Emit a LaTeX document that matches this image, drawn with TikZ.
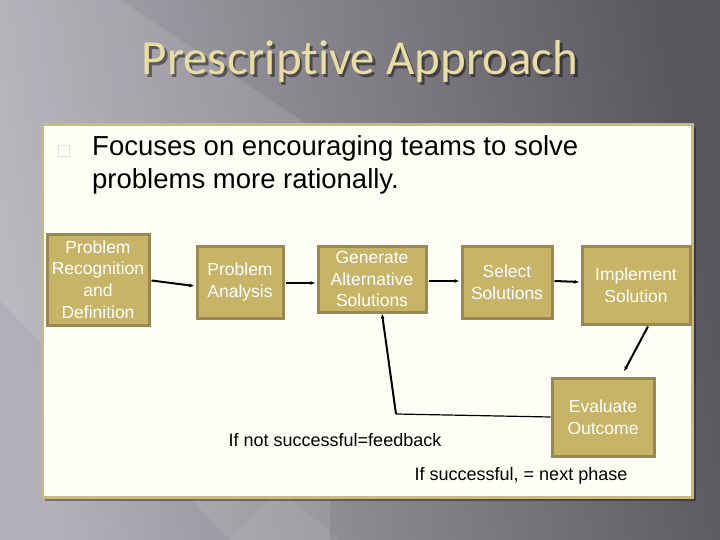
\documentclass[tikz,border=0pt]{standalone}
\usepackage{fontspec}
\setmainfont{Liberation Sans}
\newfontfamily\titlefont[Ligatures=NoCommon]{Carlito}
\usetikzlibrary{arrows.meta,calc}
\definecolor{bgl}{HTML}{B2B0B8}
\definecolor{bgd}{HTML}{58575D}
\definecolor{titlec}{HTML}{EBDCA2}
\definecolor{panelc}{HTML}{FFFFF6}
\definecolor{panelb}{HTML}{C9BA80}
\definecolor{boxf}{HTML}{C8B466}
\definecolor{boxb}{HTML}{9A8752}
\tikzset{
  stepbox/.style={draw=boxb, line width=3pt, fill=boxf, text=white, align=center,
    font=\fontsize{17.5}{21.7}\selectfont, inner sep=1pt},
  conn/.style={line width=2pt, -{Latex[length=5pt,width=4pt]}},
  lbl/.style={font=\fontsize{18}{20}\selectfont, text=black, inner sep=0pt},
  titlestyle/.style={font=\titlefont\fontsize{49}{52}\selectfont}
}
\begin{document}
\begin{tikzpicture}[x=1pt,y=-1pt]
\useasboundingbox (0,0) rectangle (720,540);
% background
\shade[shading=axis, left color=bgl, right color=bgd, shading angle=100] (0,0) rectangle (720,540);
\fill[white, opacity=0.10] (0,0) -- (120,0) -- (330,140) -- (330,540) -- (230,540) -- (0,300) -- cycle;
\fill[white, opacity=0.06] (230,540) -- (280,490) -- (340,540) -- cycle;
% title with shadow
\node[titlestyle, text=black, opacity=0.45] (tshadow) at (362.5,64) {Prescriptive Approach};
\node[titlestyle, text=titlec] (title) at (360,61) {Prescriptive Approach};
% panel
\fill[black, opacity=0.35] (45,128) rectangle (696,501);
\draw[panelb, line width=3pt, fill=panelc] (42,125) rectangle (692,497);
% bullet
\draw[black!12, line width=0.6pt] (58,145) rectangle (69,156);
\node[anchor=west, align=left, inner sep=0pt, font=\fontsize{27.5}{33}\selectfont] (txt) at (92,165)
  {Focuses on encouraging teams to solve\\problems more rationally.};
% boxes
\node[stepbox, minimum width=102pt, minimum height=91pt] (b1) at (98,279.5) {Problem\\Recognition\\and\\Definition};
\node[stepbox, minimum width=86pt, minimum height=72pt] (b2) at (240,282) {Problem\\Analysis};
\node[stepbox, minimum width=108pt, minimum height=66pt] (b3) at (372,279) {Generate\\Alternative\\Solutions};
\node[stepbox, minimum width=90pt, minimum height=72pt] (b4) at (507,282) {Select\\Solutions};
\node[stepbox, minimum width=108pt, minimum height=78pt] (b5) at (636,285) {Implement\\Solution};
\node[stepbox, minimum width=102pt, minimum height=78pt] (b6) at (603,417) {Evaluate\\Outcome};
% connectors
\draw[conn] ($(b1.east)+(1,1)$) -- ($(b2.west)+(-1,4)$);
\draw[conn] ($(b2.east)+(1,1)$) -- ($(b3.west)+(-1,4)$);
\draw[conn] ($(b3.east)+(1,2)$) -- ($(b4.west)+(-1,-1)$);
\draw[conn] ($(b4.east)+(1,-1)$) -- ($(b5.west)+(-1,-3)$);
\draw[conn] ($(b5.south)+(12,1)$) -- ($(b6.north)+(21,-5)$);
\coordinate (fb) at (396,414);
\draw[line width=1.2pt] (b6.west) -- (fb);
\draw[conn] (fb) -- ($(b3.south)+(10,0)$);
% labels
\node[lbl] (l1) at (335,440) {If not successful=feedback};
\node[lbl] (l2) at (521,476) {If successful, = next phase};
\end{tikzpicture}
\end{document}
